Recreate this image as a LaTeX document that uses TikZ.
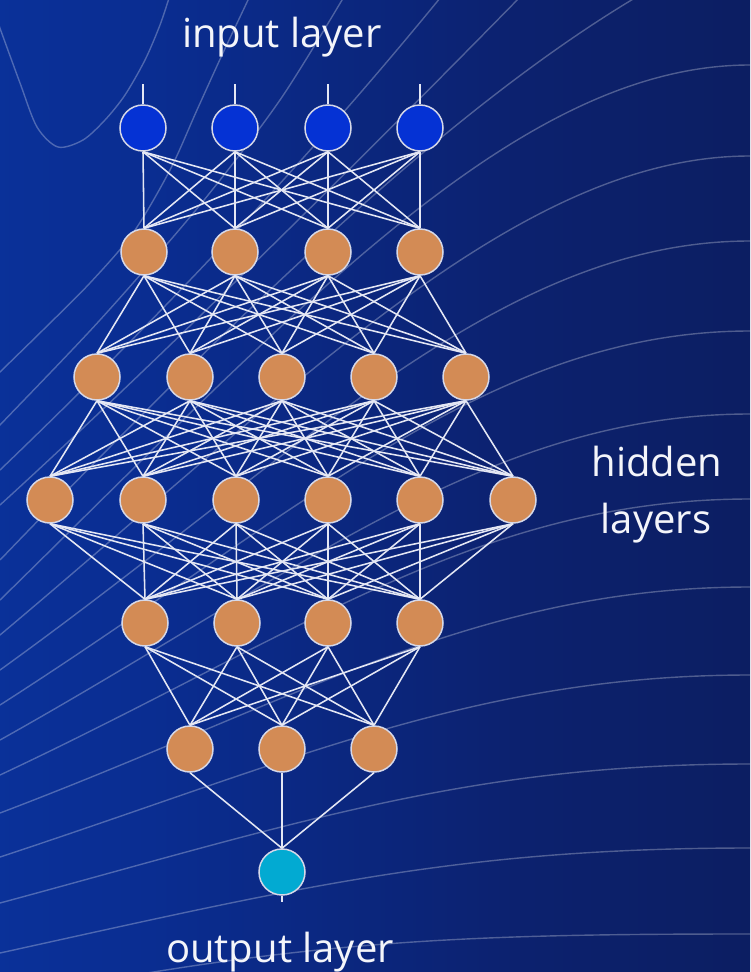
\documentclass[tikz,border=0pt]{standalone}
\usepackage{fontspec}
\setmainfont{Open Sans}

\definecolor{bgA}{RGB}{10,58,172}
\definecolor{bgB}{RGB}{10,45,145}
\definecolor{bgC}{RGB}{12,33,110}
\definecolor{bgD}{RGB}{12,30,98}
\definecolor{inpfill}{RGB}{5,50,212}
\definecolor{hidfill}{RGB}{211,139,85}
\definecolor{outfill}{RGB}{2,170,210}
\definecolor{rim}{RGB}{214,216,232}
\definecolor{linkc}{RGB}{228,231,244}
\definecolor{labelc}{RGB}{244,245,250}

\pgfdeclarehorizontalshading{bgshade}{100bp}{color(0bp)=(bgA); color(35bp)=(bgB); color(60bp)=(bgC); color(75bp)=(bgD); color(100bp)=(bgD)}

\begin{document}
\begin{tikzpicture}[x=1pt,y=-1pt,
  neuron/.style={circle, minimum size=46pt, inner sep=0pt, draw=rim, line width=1.5pt},
  inp/.style={neuron, fill=inpfill},
  hid/.style={neuron, fill=hidfill},
  outp/.style={neuron, fill=outfill},
  link/.style={draw=linkc, line width=1.55pt},
  contour/.style={draw=white, draw opacity=0.28, line width=1.4pt},
  tag/.style={text=labelc, font=\fontsize{40}{48}\selectfont, anchor=base, inner sep=0pt}]

\useasboundingbox (0,0) rectangle (750,972);
\fill[shading=bgshade] (0,0) rectangle (750,972);

% level curves in the background
\begin{scope}
\clip (0,0) rectangle (750,972);
% the innermost valley and the steep curves around it
\draw[contour] plot[smooth] coordinates {(-3,20) (20,83) (37,127) (58,147) (83,140) (105,120) (125,95) (145,60) (160,25) (170,-5)};
\draw[contour] plot[smooth] coordinates {(-10,382) (0,372) (43,330) (90,283) (133,233) (170,170) (197,110) (222,55) (248,0) (252,-10)};
\draw[contour] plot[smooth] coordinates {(-10,436) (0,425) (100,320) (200,205) (280,100) (345,-5)};
\draw[contour] (0,470) .. controls (150,326) and (300,170) .. (445,-8);
\draw[contour] (0,505) .. controls (170,350) and (380,140) .. (525,-8);
\draw[contour] (0,560) .. controls (250,300) and (460,100) .. (645,-8);
% the wide curves that level out to the right
\draw[contour] (0,600) .. controls (300,306) and (520,65) .. (750,65);
\draw[contour] (0,635) .. controls (300,383) and (520,156) .. (750,156);
\draw[contour] (0,670) .. controls (300,454) and (500,241) .. (750,241);
\draw[contour] (0,705) .. controls (300,513) and (490,331) .. (750,331);
\draw[contour] (0,740) .. controls (300,572) and (490,414) .. (750,414);
\draw[contour] (0,775) .. controls (300,634) and (480,499) .. (750,499);
\draw[contour] (0,813) .. controls (300,699) and (480,587) .. (750,587);
\draw[contour] (0,857) .. controls (300,758) and (480,675) .. (750,675);
\draw[contour] (0,903) .. controls (300,822) and (470,764) .. (750,764);
\draw[contour] (0,953) .. controls (300,887) and (460,848) .. (750,848);
\draw[contour] (0,1000) .. controls (300,940) and (460,934) .. (750,934);
\end{scope}

% neurons, layer by layer
\foreach \x [count=\i] in {143,235,328,420} \node[inp] (a\i) at (\x,128) {};
\foreach \x [count=\i] in {144,235,328,420} \node[hid] (b\i) at (\x,252) {};
\foreach \x [count=\i] in {97,190,282,374,466} \node[hid] (c\i) at (\x,377) {};
\foreach \x [count=\i] in {50,143,236,328,420,513} \node[hid] (d\i) at (\x,500) {};
\foreach \x [count=\i] in {145,237,328,420} \node[hid] (e\i) at (\x,623) {};
\foreach \x [count=\i] in {190,282,374} \node[hid] (f\i) at (\x,749) {};
\node[outp] (g1) at (282,872) {};

% input and output stubs
\foreach \x [count=\i] in {143,235,328,420} {
  \coordinate (in\i) at (\x,84);
  \draw[link, line width=1.1pt] (in\i) -- (a\i.north);
}
\coordinate (out) at (282,902);
\draw[link, line width=1.1pt] (g1.south) -- (out);

% full connections between consecutive layers
\foreach \i in {1,...,4} \foreach \j in {1,...,4} \draw[link] (a\i.south) -- (b\j.north);
\foreach \i in {1,...,4} \foreach \j in {1,...,5} \draw[link] (b\i.south) -- (c\j.north);
\foreach \i in {1,...,5} \foreach \j in {1,...,6} \draw[link] (c\i.south) -- (d\j.north);
\foreach \i in {1,...,6} \foreach \j in {1,...,4} \draw[link] (d\i.south) -- (e\j.north);
\foreach \i in {1,...,4} \foreach \j in {1,...,3} \draw[link] (e\i.south) -- (f\j.north);
\foreach \i in {1,...,3} \draw[link] (f\i.south) -- (g1.north);

% layer captions
\node[tag] (tin) at (282,47) {input layer};
\node[tag] (thid1) at (657,476) {hidden};
\node[tag] (thid2) at (656,533) {layers};
\node[tag] (tout) at (280,962) {output layer};
\end{tikzpicture}
\end{document}
